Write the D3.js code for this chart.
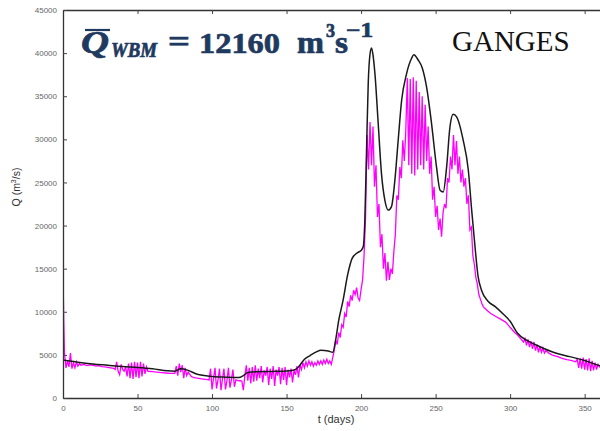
<!DOCTYPE html>
<html>
<head>
<meta charset="utf-8">
<script src="https://cdn.jsdelivr.net/npm/d3@7"></script>
<style>
  body { margin: 0; background: #fff; }
  svg { display: block; }
</style>
</head>
<body>
<div id="container"></div>
<script>
// tick values
var xTicks = [0, 50, 100, 150, 200, 250, 300, 350];
var yTicks = [0, 5000, 10000, 15000, 20000, 25000, 30000, 35000, 40000, 45000];

// WBM simulated discharge, [day, Q m3/s] (black)
var wbmPoints = [
  [0,4400],[10,4150],[20,3950],[30,3800],[40,3650],[50,3550],[60,3400],[70,3150],
  [75,3100],[79,3400],[84,3200],[90,2750],[100,2500],[110,2420],[118,2380],[121,2600],
  [124,2950],[130,3050],[140,3080],[150,3120],[155,3250],[158,3600],[162,4500],[166,4950],
  [170,5350],[173,5550],[178,5450],[181,5300],[183,6800],[185,9000],[188,11400],[191,14300],
  [194,16200],[198,16900],[200,17100],[201.5,17600],[202.5,20500],[203.7,29000],[204.8,36500],
  [206,39900],[207,40600],[208,39800],[209.3,37600],[211.5,31800],[213.7,26000],[216,22900],
  [218.2,21800],[220.4,22200],[222.7,25300],[224.9,29900],[227.2,34500],[230.5,37600],
  [233.9,39400],[235.4,39800],[238.3,39200],[241,38300],[243.9,36100],[247.3,31800],
  [250.6,26800],[253,24100],[255.1,23900],[257.4,26800],[259.6,31400],[261.8,32900],
  [264.1,32600],[268.5,29900],[271.9,26500],[274.1,22000],[276.3,17800],[278.5,14100],
  [280.8,12500],[285,11250],[290,10600],[295,9800],[300,8900],[305,7500],[311,6700],
  [320,5950],[330,5250],[340,4800],[350,4350],[360,3750],[365,3550]
];

// observed discharge, [day, Q m3/s] (magenta)
var obsPoints = [
  [0,14500],[0.5,9000],[1,5200],[2,3500],[3,4300],[4,3600],[5,5200],[6,3400],[7,4100],[8,3500],
  [9,4200],[10,3700],[11,4000],[12,3800],[14,3900],[16,3750],[18,3850],[20,3800],[22,3700],
  [24,3750],[26,3650],[28,3600],[30,3550],[32,3500],[34,3450],[35,3300],[36,4200],[37,3100],
  [38,2700],[39,3900],[40,3300],[41,3100],[42,3600],[43,2500],[44,4000],[45,2300],[46,4100],
  [47,2200],[48,4200],[49,2400],[50,4100],[51,2300],[52,4200],[53,2500],[54,4000],[55,2800],
  [56,3600],[57,3100],[60,3050],[63,3000],[66,2950],[69,2900],[72,2850],[75,2850],[76,3700],
  [77,2600],[78,4000],[79,3000],[80,3800],[81,2300],[82,3500],[83,2600],[84,3000],[86,2500],
  [88,2350],[90,2300],[92,2250],[94,2200],[96,2150],[98,2100],[99,3400],[100,1000],[101,2300],
  [102,3500],[103,1100],[104,2100],[105,3400],[106,900],[107,2200],[108,3400],[109,1000],
  [110,2000],[111,3500],[112,1200],[113,2100],[114,3300],[115,1300],[116,2100],[117,2050],
  [118,2000],[119,2000],[120,1950],[121,900],[122,2600],[123,3800],[124,2000],[125,3500],
  [126,1700],[127,3600],[128,1900],[129,3800],[130,2000],[131,3400],[132,2300],[133,3700],
  [134,1800],[135,3200],[136,2600],[137,3600],[138,1500],[139,3400],[140,2200],[141,3700],
  [142,1400],[143,3300],[144,2600],[145,3600],[146,1600],[147,3500],[148,2100],[149,3600],
  [150,1500],[151,3300],[152,2400],[153,3400],[154,1800],[155,3200],[156,2700],[157,3700],
  [158,2400],[159,3800],[160,3300],[161,4100],[162,3500],[163,4200],[164,3700],[165,4300],
  [166,3800],[167,4200],[168,3700],[169,4100],[170,3800],[171,4300],[172,3900],[173,4300],
  [174,3900],[175,4400],[176,4000],[177,4500],[178,4000],[179,4300],[180,3900],[181,4700],
  [182,5500],[183,6700],[184,6200],[185,7600],[186,7000],[187,8500],[188,8200],[189,9800],
  [190,9400],[191,11200],[192,10600],[193,11900],[194,11300],[195,12500],[196,12000],
  [197,12800],[198,11600],[199,11300],[200,12600],[201,13700],[202,16500],[203,21000],
  [204,30500],[205,26500],[206,32000],[207,27000],[208,31500],[209,24500],[210,27000],
  [211,21000],[212,22500],[213,17500],[214,19000],[215,15000],[216,16800],[217,13600],
  [218,15800],[219,13700],[220,15000],[221,14400],[222,17000],[223,19000],[224,23500],
  [225,23000],[226,26800],[227,25500],[228,29900],[229,27500],[230,31000],[231,37100],
  [232,27000],[233,37000],[234,26000],[235,37200],[236,25800],[237,36800],[238,26500],
  [239,35500],[240,27000],[241,35000],[242,26500],[243,34000],[244,27500],[245,31500],
  [246,26000],[247,28000],[248,23000],[249,24500],[250,21000],[251,22300],[252,19500],
  [253,20800],[254,18700],[255,21500],[256,22500],[257,22000],[258,25500],[259,25000],
  [260,28000],[261,26500],[262,30500],[263,27000],[264,29800],[265,26000],[266,28000],
  [267,25000],[268,26500],[269,24500],[270,25500],[271,22500],[272,23500],[273,19500],
  [274,19800],[275,16500],[276,15500],[277,14000],[278,13200],[279,12000],[280,11500],
  [281,11000],[282,10600],[283,10400],[285,10100],[287,9800],[289,9600],[291,9400],
  [293,9200],[295,9000],[297,8800],[299,8400],[301,8000],[303,7600],[305,7300],[307,6900],
  [309,6500],[310,6900],[311,6100],[312,6800],[313,5900],[314,6600],[315,5700],[316,6500],
  [317,5500],[318,6200],[319,5300],[320,6000],[321,5300],[322,5800],[323,5200],[324,5500],
  [326,5200],[328,5000],[330,4900],[332,4800],[334,4650],[336,4550],[338,4450],[340,4400],
  [342,4300],[344,4200],[345,4500],[346,3500],[347,4600],[348,3400],[349,4700],[350,3300],
  [351,4500],[352,3200],[353,4600],[354,3100],[355,4300],[356,3200],[357,4100],[358,3300],
  [359,3900],[360,3600],[362,3700],[365,3600]
];

// plot box (right side runs past the picture edge)
var margin = { top: 10, left: 63 },
    plotRight = 607,
    plotBottom = 398;

var svg = d3.select("#container").append("svg")
    .attr("width", 600)
    .attr("height", 431);

svg.append("rect").attr("width", 600).attr("height", 431).attr("fill", "#fff");

var x = d3.scaleLinear().domain([0, 365]).range([margin.left, plotRight]);
var y = d3.scaleLinear().domain([0, 45000]).range([plotBottom, margin.top]);

svg.append("defs").append("clipPath").attr("id", "plotclip")
  .append("rect")
    .attr("x", margin.left).attr("y", margin.top)
    .attr("width", plotRight - margin.left).attr("height", plotBottom - margin.top);

// lines
var line = d3.line()
    .x(function(d) { return x(d[0]); })
    .y(function(d) { return y(d[1]); });

var g = svg.append("g").attr("clip-path", "url(#plotclip)");

g.append("path")
    .datum(obsPoints)
    .attr("fill", "none")
    .attr("stroke", "#f0f")
    .attr("stroke-width", 1.3)
    .attr("d", line);

g.append("path")
    .datum(wbmPoints)
    .attr("fill", "none")
    .attr("stroke", "#1a1a1a")
    .attr("stroke-width", 1.5)
    .attr("d", line.curve(d3.curveMonotoneX));

// axes, gnuplot style inward ticks
var xAxis = svg.append("g")
    .attr("transform", "translate(0," + plotBottom + ")")
    .call(d3.axisBottom(x).tickValues(xTicks).tickSize(-4).tickPadding(7).tickSizeOuter(0));

var xTop = svg.append("g")
    .attr("transform", "translate(0," + margin.top + ")")
    .call(d3.axisTop(x).tickValues(xTicks).tickSize(-4).tickSizeOuter(0).tickFormat(""));

var yAxis = svg.append("g")
    .attr("transform", "translate(" + margin.left + ",0)")
    .call(d3.axisLeft(y).tickValues(yTicks).tickFormat(d3.format("d"))
      .tickSize(-4).tickPadding(6).tickSizeOuter(0));

[xAxis, xTop, yAxis].forEach(function(a) {
  a.select(".domain").attr("stroke", "#333").attr("stroke-width", 1.3);
  a.selectAll(".tick line").attr("stroke", "#444");
  a.selectAll("text")
    .attr("fill", "#666")
    .style("font-family", "Liberation Sans, Arial, sans-serif")
    .style("font-size", "8px");
});

// axis titles
svg.append("text")
    .attr("transform", "translate(20,187) rotate(-90)")
    .attr("text-anchor", "middle")
    .style("font-family", "Liberation Sans, Arial, sans-serif")
    .style("font-size", "10.5px")
    .attr("fill", "#333")
    .html('Q (m<tspan dy="-4" font-size="7px">3</tspan><tspan dy="4">/s)</tspan>');

svg.append("text")
    .attr("x", 336)
    .attr("y", 423)
    .attr("text-anchor", "middle")
    .style("font-family", "Liberation Sans, Arial, sans-serif")
    .style("font-size", "11px")
    .attr("fill", "#333")
    .text("t (days)");

// mean discharge annotation
var ink = "#1f3a5f";
var ann = svg.append("g")
    .attr("fill", ink)
    .attr("stroke", ink)
    .attr("stroke-width", 0.7)
    .style("font-family", "Liberation Serif, Times New Roman, serif")
    .style("font-weight", "bold");

function piece(px, py, size, txt, len, italic) {
  var t = ann.append("text").attr("x", px).attr("y", py)
      .style("font-size", size + "px").text(txt);
  if (italic) t.style("font-style", "italic");
  if (len) t.attr("textLength", len).attr("lengthAdjust", "spacingAndGlyphs");
  return t;
}

piece(81, 53, 31, "Q", 28, true);
ann.append("line").attr("x1", 85).attr("x2", 110).attr("y1", 30).attr("y2", 30)
    .attr("stroke-width", 2.2);
piece(111, 57, 20, "WBM", 46, true);
piece(168, 52, 31, "=", 22);
piece(199, 53, 30, "12160", 81);
piece(297, 53, 31, "m", 27);
piece(326, 37, 18, "3", 9);
piece(335, 53, 31, "s", 13);
piece(346, 37, 21, "\u22121", 27);

svg.append("text")
    .attr("x", 452)
    .attr("y", 51)
    .style("font-family", "Liberation Serif, Times New Roman, serif")
    .style("font-size", "29px")
    .attr("fill", "#111")
    .text("GANGES");
</script>
</body>
</html>
